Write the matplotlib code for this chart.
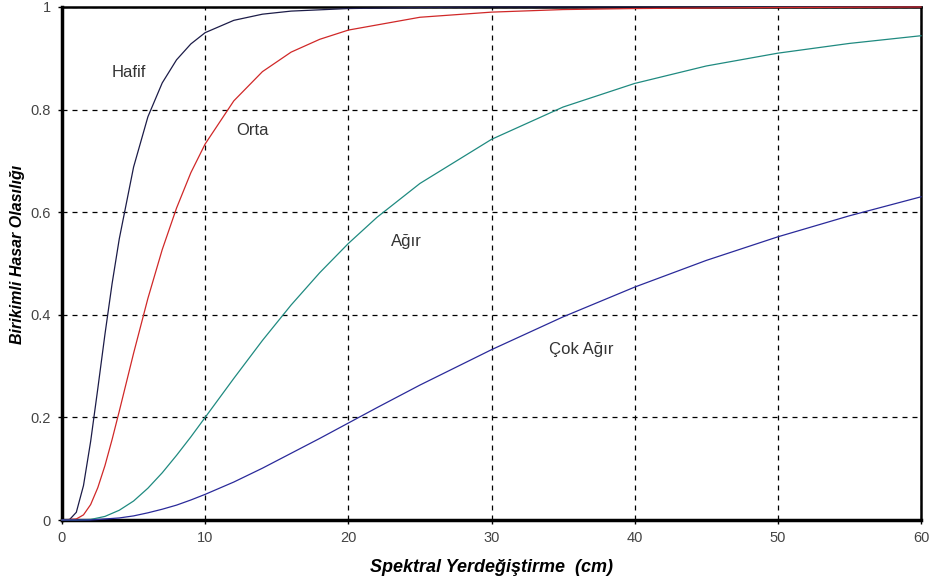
import matplotlib
matplotlib.use("Agg")
import matplotlib.pyplot as plt

plt.rcParams['font.family'] = ['Liberation Sans', 'DejaVu Sans']

# Values
x_hafif = [0, 0.5, 1, 1.5, 2, 2.5, 3, 3.5, 4, 5, 6, 7, 8, 9, 10, 12, 14, 16, 20, 25, 30, 40, 50, 60]
y_hafif = [0, 0.0, 0.015, 0.067, 0.153, 0.256, 0.362, 0.461, 0.548, 0.688, 0.786, 0.852, 0.897, 0.928,
           0.950, 0.974, 0.986, 0.992, 0.997, 0.999, 1.0, 1.0, 1.0, 1.0]

x_orta = [0, 1, 1.5, 2, 2.5, 3, 3.5, 4, 5, 6, 7, 8, 9, 10, 12, 14, 16, 18, 20, 25, 30, 35, 40, 50, 60]
y_orta = [0, 0.002, 0.010, 0.030, 0.063, 0.106, 0.157, 0.212, 0.325, 0.432, 0.527, 0.608, 0.677, 0.733,
          0.817, 0.874, 0.912, 0.937, 0.955, 0.980, 0.990, 0.995, 0.997, 0.999, 1.0]

x_agir = [0, 1, 2, 3, 4, 5, 6, 7, 8, 9, 10, 12, 14, 16, 18, 20, 22, 25, 30, 35, 40, 45, 50, 55, 60]
y_agir = [0, 0.0, 0.001, 0.007, 0.019, 0.037, 0.062, 0.092, 0.126, 0.162, 0.200, 0.276, 0.350, 0.419,
          0.482, 0.539, 0.590, 0.656, 0.742, 0.805, 0.851, 0.885, 0.910, 0.929, 0.944]

x_cok = [0, 2, 3, 4, 5, 6, 7, 8, 9, 10, 12, 14, 16, 18, 20, 22, 25, 30, 35, 40, 45, 50, 55, 60]
y_cok = [0, 0.0, 0.002, 0.004, 0.008, 0.014, 0.021, 0.029, 0.039, 0.050, 0.074, 0.101, 0.130, 0.159,
         0.189, 0.219, 0.263, 0.332, 0.396, 0.454, 0.506, 0.552, 0.593, 0.630]

labels = ["Hafif", "Orta", "Ağır", "Çok Ağır"]
label_pos = [(3.5, 0.872), (12.15, 0.760), (23.0, 0.543), (34.0, 0.333)]

x_ticks = [0, 10, 20, 30, 40, 50, 60]
y_ticks = [0, 0.2, 0.4, 0.6, 0.8, 1]
y_tick_labels = ["0", "0.2", "0.4", "0.6", "0.8", "1"]

fig = plt.figure(figsize=(9.32, 5.87), dpi=100)
ax = fig.add_axes([62/932, 67/587, (921-62)/932, (520-7)/587])

series = [(x_hafif, y_hafif, "#1c1c48"), (x_orta, y_orta, "#d02828"),
          (x_agir, y_agir, "#1f8a80"), (x_cok, y_cok, "#2a2a9a")]
for xs, ys, c in series:
    ax.plot(xs, ys, color=c, lw=0.9, zorder=3, clip_on=False)

for lab, (lx, ly) in zip(labels, label_pos):
    ax.text(lx, ly, lab, fontsize=12, color="#333333", ha="left", va="center")

ax.set_xlim(0, 60)
ax.set_ylim(0, 1)
ax.set_xticks(x_ticks)
ax.set_yticks(y_ticks)
ax.set_yticklabels(y_tick_labels)
ax.tick_params(axis='both', direction='out', length=3, width=1, labelsize=10.5,
               labelcolor="#444444", pad=5)
ax.grid(True, color='black', linestyle=(0, (4, 4)), linewidth=0.9)
ax.set_axisbelow(True)

for side in ['left', 'bottom']:
    ax.spines[side].set_linewidth(2.5)
for side in ['top', 'right']:
    ax.spines[side].set_linewidth(1.8)

ax.set_xlabel("Spektral Yerdeğiştirme  (cm)", fontsize=13, fontweight='bold',
              fontstyle='italic')
ax.set_ylabel("Birikimli Hasar Olasılığı", fontsize=11.5, fontweight='bold',
              fontstyle='italic')
ax.xaxis.set_label_coords(0.5, -0.076)
ax.yaxis.set_label_coords(-0.043, 0.518)

fig.savefig("out.png", dpi=100)
